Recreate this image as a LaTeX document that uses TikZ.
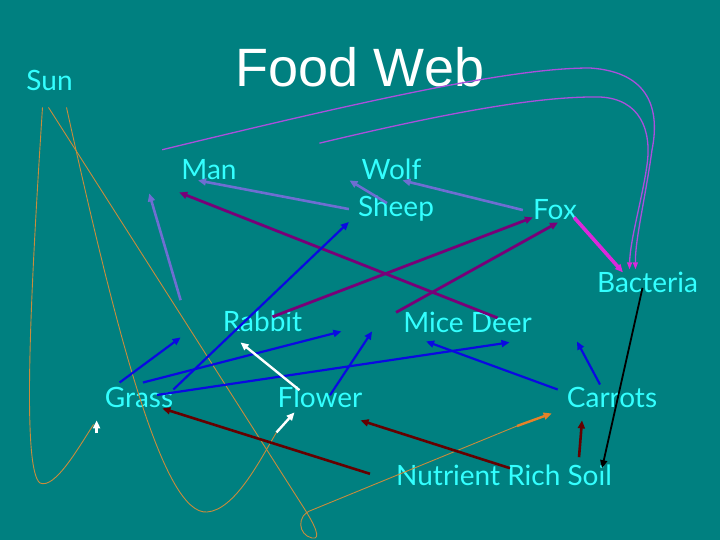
\documentclass[tikz,border=0pt]{standalone}
\usepackage{fontspec}
\setmainfont{Lato}
\newfontfamily\ttlfont{Liberation Sans}
\usetikzlibrary{arrows.meta}
\definecolor{bgc}{RGB}{0,128,128}
\definecolor{lbc}{RGB}{51,255,255}
\definecolor{slc}{RGB}{110,110,210}
\definecolor{puc}{RGB}{120,0,120}
\definecolor{blc}{RGB}{10,10,225}
\definecolor{mgc}{RGB}{220,40,220}
\definecolor{vic}{RGB}{170,80,220}
\definecolor{drc}{RGB}{100,0,0}
\definecolor{ogc}{RGB}{200,140,60}
\definecolor{otc}{RGB}{230,130,40}
\tikzset{lb/.append style={text=lbc,inner sep=0pt,anchor=base,font=\fontsize{28}{30}\selectfont}}
\tikzset{ttl/.append style={text=white,inner sep=0pt,anchor=base,font=\ttlfont\fontsize{54}{60}\selectfont}}
\tikzset{ar/.append style={-{Triangle[length=8pt,width=7pt]}}}
\tikzset{sl/.append style={ar,draw=slc,line width=2.6pt}}
\tikzset{pu/.append style={ar,draw=puc,line width=2.8pt}}
\tikzset{bl/.append style={ar,draw=blc,line width=2.2pt}}
\tikzset{mg/.append style={ar,draw=mgc,line width=3.6pt}}
\tikzset{wh/.append style={ar,draw=white,line width=2.4pt}}
\tikzset{dr/.append style={ar,draw=drc,line width=2.6pt}}
\tikzset{bk/.append style={ar,draw=black,line width=1.8pt}}
\tikzset{vi/.append style={-{Triangle[length=7pt,width=5pt,color=mgc]},draw=vic,line width=1.3pt}}
\tikzset{og/.append style={draw=ogc,line width=0.9pt}}

\begin{document}
\begin{tikzpicture}[x=1pt,y=-1pt]
                \fill[bgc] (0,0) rectangle (720,540);
                \useasboundingbox (0,0) rectangle (720,540);
                % labels
                \node[ttl] (title) at (360,87) {Food Web};
                \node[lb] (sun) at (49.5,91) {Sun};
                \node[lb] (man) at (209,180) {Man};
                \node[lb] (wolf) at (391.5,180) {Wolf};
                \node[lb] (sheep) at (396,217) {Sheep};
                \node[lb] (fox) at (555,220) {Fox};
                \node[lb] (bacteria) at (647.5,292) {Bacteria};
                \node[lb] (rabbit) at (262.5,331) {Rabbit};
                \node[lb] (mice) at (467.5,332) {Mice Deer};
                \node[lb] (grass) at (139,407) {Grass};
                \node[lb] (flower) at (320,407) {Flower};
                \node[lb] (carrots) at (612,407) {Carrots};
                \node[lb] (soil) at (504,485) {Nutrient Rich Soil};
                % sun rays
                \draw[og] ([shift={(-7,16)}]sun.south) .. controls (30,300) and (22,470) .. (40,483) .. controls (55,490) and (80,445) .. ([shift={(-11,17)}]grass.south west);
                \draw[og] ([shift={(17,16)}]sun.south) .. controls (120,350) and (165,515) .. (207,512) .. controls (235,510) and (260,460) .. ([shift={(-1,25)}]flower.south west);
                \draw[og] ([shift={(-1,16)}]sun.south) -- (302,505) .. controls (315,525) and (322,540) .. (312,538) .. controls (298,535) and (296,515) .. (312,510) -- (517,426);
                \draw[ar,draw=otc,line width=2.4pt] (517,426) -- ([shift={(-15,6)}]carrots.south west);
                \draw[wh] ([shift={(-1,25)}]flower.south west) -- ([shift={(17,5)}]flower.south west);
                \draw[wh] ([shift={(-8,26)}]grass.south west) -- ([shift={(-8,13)}]grass.south west);
                % decomposers
                \draw[vi] ([shift={(-19,-10)}]man.north west) .. controls (400,92) and (520,68) .. (590,68) .. controls (650,72) and (660,110) .. (652,150) .. controls (645,200) and (635,240) .. ([shift={(-12,-2)}]bacteria.north);
                \draw[vi] ([shift={(-42,-16)}]wolf.north west) .. controls (450,112) and (540,96) .. (600,97) .. controls (640,99) and (652,130) .. (647,165) .. controls (642,200) and (630,240) .. ([shift={(-18,-2)}]bacteria.north);
                \draw[mg] ([shift={(-3,-3)}]fox.south east) -- ([shift={(26,1)}]bacteria.north west);
                \draw[bk] ([shift={(-5,6)}]bacteria.center) -- ([shift={(-10,4)}]soil.north east);
                % eaters
                \draw[sl] ([shift={(-9,0)}]sheep.west) -- ([shift={(-11,0)}]man.south);
                \draw[sl] ([shift={(-9,-6)}]sheep.center) -- ([shift={(-12,0)}]wolf.south west);
                \draw[sl] ([shift={(-10,0)}]fox.west) -- ([shift={(11,0)}]wolf.south);
                \draw[sl] ([shift={(-42,-10)}]rabbit.north west) -- ([shift={(-32,13)}]man.south west);
                \draw[pu] ([shift={(30,-4)}]mice.center) -- ([shift={(-2,12)}]man.south west);
                \draw[pu] ([shift={(10,-4)}]rabbit.center) -- ([shift={(0,-3)}]fox.south west);
                \draw[pu] ([shift={(-7,1)}]mice.north west) -- ([shift={(3,2)}]fox.south);
                % plants
                \draw[bl] ([shift={(0,3)}]grass.north east) -- ([shift={(-9,0)}]sheep.south west);
                \draw[bl] ([shift={(15,-4)}]grass.north west) -- ([shift={(-42,6)}]rabbit.south west);
                \draw[bl] ([shift={(4,-4)}]grass.north) -- ([shift={(39,0)}]rabbit.south east);
                \draw[bl] ([shift={(18,-2)}]grass.center) -- ([shift={(42,10)}]mice.south);
                \draw[bl] ([shift={(10,9)}]flower.north) -- ([shift={(-31,-1)}]mice.south west);
                \draw[bl] ([shift={(-9,3)}]carrots.north west) -- ([shift={(23,9)}]mice.south west);
                \draw[bl] ([shift={(-12,-2)}]carrots.north) -- ([shift={(-35,-45)}]carrots.north);
                \draw[wh] ([shift={(22,4)}]flower.north west) -- ([shift={(-22,11)}]rabbit.south);
                % soil
                \draw[dr] ([shift={(-26,-1)}]soil.west) -- ([shift={(-11,1)}]grass.south east);
                \draw[dr] ([shift={(6,4)}]soil.north) -- ([shift={(-2,13)}]flower.south east);
                \draw[dr] ([shift={(-33,-7)}]soil.north east) -- ([shift={(-30,13)}]carrots.south);
            \end{tikzpicture}
\end{document}
